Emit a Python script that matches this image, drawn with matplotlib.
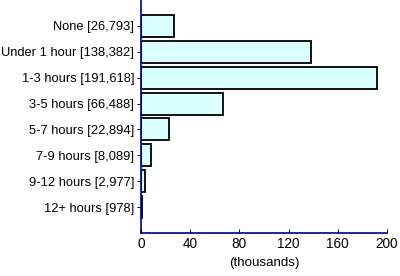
import matplotlib
matplotlib.use("Agg")
import matplotlib.pyplot as plt

categories = ["None [26,793]", "Under 1 hour [138,382]", "1-3 hours [191,618]",
              "3-5 hours [66,488]", "5-7 hours [22,894]", "7-9 hours [8,089]",
              "9-12 hours [2,977]", "12+ hours [978]"]
values = [26.793, 138.382, 191.618, 66.488, 22.894, 8.089, 2.977, 0.978]
xticks = [0, 40, 80, 120, 160, 200]

plt.rcParams["font.family"] = ["Liberation Sans", "DejaVu Sans"]
plt.rcParams["font.size"] = 9.3

fig = plt.figure(figsize=(4.0, 2.76), dpi=100)
ax = fig.add_axes([0.3525, 0.156, 0.615, 0.844])

pos = list(range(len(categories)))
ax.barh(pos, values, height=0.85, color="#d9ffff", edgecolor="black", linewidth=1.3)

ax.set_ylim(len(categories), -1)
ax.set_xlim(0, 200)
ax.set_yticks(pos)
ax.set_yticklabels(categories)
ax.set_xticks(xticks)
ax.set_xticklabels([str(t) for t in xticks], fontsize=9.8)
ax.set_xlabel("(thousands)", labelpad=4, fontsize=9.6)

for s in ["top", "right"]:
    ax.spines[s].set_visible(False)
for s in ["left", "bottom"]:
    ax.spines[s].set_color("#000080")
    ax.spines[s].set_linewidth(1.2)
ax.tick_params(axis="y", colors="#000080", labelcolor="black", length=3, pad=2)
ax.tick_params(axis="x", colors="#000080", labelcolor="black", direction="in", length=3, pad=3)

fig.savefig("out.png", dpi=100)
